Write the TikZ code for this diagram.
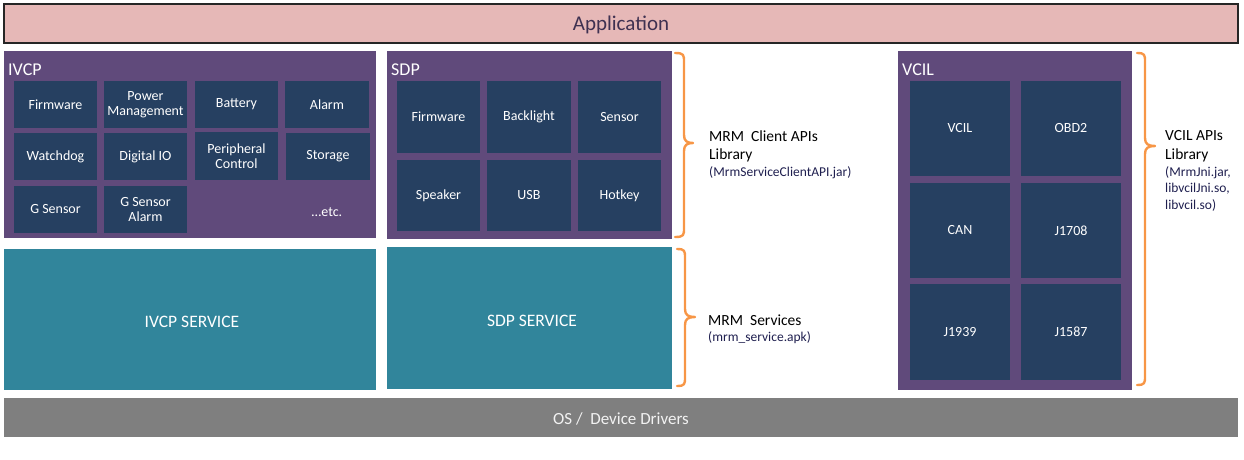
\documentclass[tikz,border=0pt]{standalone}
\usepackage{fontspec}
\setmainfont{Carlito}
\definecolor{apppink}{HTML}{E6B8B7}
\definecolor{apptext}{HTML}{3F3151}
\definecolor{purp}{HTML}{604A7B}
\definecolor{navy}{HTML}{264061}
\definecolor{teal}{HTML}{31859B}
\definecolor{osgray}{HTML}{7F7F7F}
\definecolor{brace}{HTML}{F79646}
\definecolor{smalltxt}{HTML}{1F1F4F}
\tikzset{
  blk/.style={anchor=north west, inner sep=0pt, outer sep=0pt},
  grp/.style={blk, fill=purp},
  sub/.style={blk, fill=navy, text=white, align=center, font=\fontsize{14}{15.5}\selectfont},
  svc/.style={blk, fill=teal, text=white, font=\fontsize{17.5}{19}\selectfont},
  ttl/.style={anchor=west, inner sep=0pt, text=white, font=\fontsize{18}{20}\selectfont},
  rtxt/.style={anchor=west, inner sep=0pt, text=black, font=\fontsize{15.5}{17}\selectfont},
  stxt/.style={anchor=west, inner sep=0pt, text=smalltxt, font=\fontsize{13.5}{15}\selectfont},
  bracestyle/.style={draw=brace, line width=2.4pt, line cap=round, line join=round},
}
% \curbr{top x}{top y}{vertical x}{tip x}{tip y}{bottom y}
\newcommand{\curbr}[6]{%
  \draw[bracestyle] (#1,#2) .. controls (#3,#2) and (#3,#2+2) .. (#3,#2+9)
    -- (#3,#5-8) .. controls (#3,#5-2) and (#3+3,#5) .. (#4,#5)
    .. controls (#3+3,#5) and (#3,#5+2) .. (#3,#5+8)
    -- (#3,#6-9) .. controls (#3,#6-2) and (#3,#6) .. (#1,#6);}
\begin{document}
\begin{tikzpicture}[x=1pt,y=-1pt]
\useasboundingbox (0,0) rectangle (1244,460);
% Application bar
\node[blk, fill=apppink, draw=black!85, line width=1.3pt, minimum width=1234, minimum height=39] (app) at (4,4) {};
\node[text=apptext, font=\fontsize{21}{23}\selectfont] (apptxt) at (621,24.5) {Application};
% IVCP group
\node[grp, minimum width=372, minimum height=187] (ivcp) at (4,51) {};
\node[ttl] (ivcpt) at (8,70) {IVCP};
\node[sub, minimum width=83, minimum height=47] (i11) at (14,81) {Firmware};
\node[sub, minimum width=83, minimum height=47] (i12) at (104,81) {Power\\Management};
\node[sub, minimum width=83, minimum height=47] (i13) at (195,81) {Battery};
\node[sub, minimum width=84, minimum height=47] (i14) at (285,81) {Alarm};
\node[sub, minimum width=83, minimum height=47] (i21) at (14,133) {Watchdog};
\node[sub, minimum width=83, minimum height=47] (i22) at (104,133) {Digital IO};
\node[sub, minimum width=83, minimum height=48] (i23) at (195,132) {Peripheral\\Control};
\node[sub, minimum width=84, minimum height=47] (i24) at (286,133) {Storage};
\node[sub, minimum width=83, minimum height=47] (i31) at (14,186) {G Sensor};
\node[sub, minimum width=83, minimum height=47] (i32) at (104,186) {G Sensor\\Alarm};
\node[text=white, inner sep=0pt, font=\fontsize{14}{15.5}\selectfont] (etc) at (327,212) {\dots etc.};
% SDP group
\node[grp, minimum width=285, minimum height=188] (sdp) at (387,51) {};
\node[ttl] (sdpt) at (391,70) {SDP};
\node[sub, minimum width=83, minimum height=72] (s11) at (397,81) {Firmware};
\node[sub, minimum width=84, minimum height=72] (s12) at (487,81) {Backlight};
\node[sub, minimum width=83, minimum height=72] (s13) at (578,81) {Sensor};
\node[sub, minimum width=83, minimum height=71] (s21) at (397,160) {Speaker};
\node[sub, minimum width=84, minimum height=71] (s22) at (487,160) {USB};
\node[sub, minimum width=83, minimum height=71] (s23) at (578,160) {Hotkey};
% Services
\node[svc, minimum width=372, minimum height=141] (ivcps) at (4,249) {};
\node[text=white, font=\fontsize{17.5}{19}\selectfont] (ivcpst) at (192,322) {IVCP SERVICE};
\node[svc, minimum width=285, minimum height=142] (sdps) at (387,247) {};
\node[text=white, font=\fontsize{17.5}{19}\selectfont] (sdpst) at (532,321) {SDP SERVICE};
% VCIL group
\node[grp, minimum width=234, minimum height=339] (vcil) at (898,51) {};
\node[ttl] (vcilt) at (902,70) {VCIL};
\node[sub, minimum width=100, minimum height=95] (v11) at (910,81) {VCIL};
\node[sub, minimum width=100, minimum height=95] (v12) at (1021,81) {OBD2};
\node[sub, minimum width=100, minimum height=95] (v21) at (910,183) {CAN};
\node[sub, minimum width=100, minimum height=95] (v22) at (1021,183) {J1708};
\node[sub, minimum width=100, minimum height=96] (v31) at (910,284) {J1939};
\node[sub, minimum width=100, minimum height=96] (v32) at (1021,284) {J1587};
% OS bar
\node[blk, fill=osgray, minimum width=1234, minimum height=39] (os) at (4,398) {};
\node[text=white!95!black, font=\fontsize{17}{19}\selectfont] (ostxt) at (621,419) {OS /\ \ Device Drivers};
% Braces
\curbr{675}{53}{684}{693}{143}{237}
\curbr{677}{249}{685}{695}{317}{386}
\curbr{1137}{53}{1145}{1155}{146}{385}
% Right-hand texts
\node[rtxt] (mrm1) at (709,136) {MRM\ \ Client APIs};
\node[rtxt] (mrm2) at (709,155) {Library};
\node[stxt] (mrm3) at (709,173) {(MrmServiceClientAPI.jar)};
\node[rtxt] (svc1) at (708,320) {MRM\ \ Services};
\node[stxt] (svc2) at (708,338) {(mrm\_service.apk)};
\node[rtxt] (vc1) at (1165,136) {VCIL APIs};
\node[rtxt] (vc2) at (1165,155) {Library};
\node[stxt] (vc3) at (1165,173) {(MrmJni.jar,};
\node[stxt] (vc4) at (1165,189) {libvcilJni.so,};
\node[stxt] (vc5) at (1165,205) {libvcil.so)};
\end{tikzpicture}
\end{document}
